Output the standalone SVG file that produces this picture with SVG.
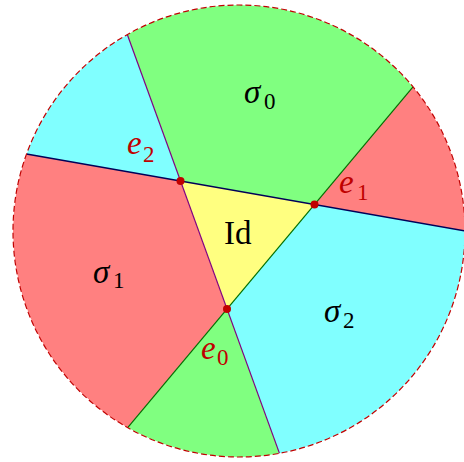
<svg xmlns="http://www.w3.org/2000/svg" width="464" height="462" viewBox="0 0 464 462">
<style>
.green{fill:#80ff80}
.red{fill:#ff8080}
.cyan{fill:#80ffff}
.yellow{fill:#ffff80}
.lbl{font-family:"Liberation Serif","DejaVu Serif",serif;font-size:33px;fill:#000}
.elbl{font-family:"Liberation Serif","DejaVu Serif",serif;font-size:33px;fill:#c00000}
.it{font-style:italic}
.sub{font-size:23px;font-style:normal}
.dot{fill:#c00000}
</style>
<defs>
<clipPath id="disk"><circle cx="239" cy="231" r="226"/></clipPath>
</defs>
<g id="regions" clip-path="url(#disk)">
<path id="sigma0" class="green" d="M127.3,34.5 A226,226 0 0 1 413,86.8 L314.5,204.5 L180.5,181 Z"/>
<path id="red_ur" class="red" d="M413,86.8 A226,226 0 0 1 465,230.9 L314.5,204.5 Z"/>
<path id="sigma2" class="cyan" d="M465,230.9 A226,226 0 0 1 279.5,453.4 L227,309 L314.5,204.5 Z"/>
<path id="green_b" class="green" d="M279.5,453.4 A226,226 0 0 1 127.7,427.7 L227,309 Z"/>
<path id="sigma1" class="red" d="M127.7,427.7 A226,226 0 0 1 26.5,154 L180.5,181 L227,309 Z"/>
<path id="cyan_ul" class="cyan" d="M26.5,154 A226,226 0 0 1 127.3,34.5 L180.5,181 Z"/>
<path id="Id" class="yellow" d="M180.5,181 L314.5,204.5 L227,309 Z"/>
</g>
<g id="connectors" clip-path="url(#disk)" fill="none">
<line x1="26.5" y1="154" x2="465" y2="230.9" stroke="#000058" stroke-width="1.6"/>
<line x1="127.3" y1="34.5" x2="279.5" y2="453.4" stroke="#800080" stroke-width="1.2"/>
<line x1="413" y1="86.8" x2="127.7" y2="427.7" stroke="#007000" stroke-width="1.2"/>
</g>
<g id="boundary">
<circle cx="239" cy="231" r="226" fill="none" stroke="#c00000" stroke-width="1.2" stroke-dasharray="6,3"/>
</g>
<g id="vertices">
<circle id="e2dot" class="dot" cx="180.5" cy="181" r="4"/>
<circle id="e1dot" class="dot" cx="314.5" cy="204.5" r="4"/>
<circle id="e0dot" class="dot" cx="227" cy="309" r="4"/>
</g>
<g id="labels">
<text class="lbl"><tspan class="it" x="244" y="103">σ</tspan><tspan class="sub" x="264" y="109">0</tspan></text>
<text class="lbl"><tspan class="it" x="93" y="282.5">σ</tspan><tspan class="sub" x="113" y="288">1</tspan></text>
<text class="lbl"><tspan class="it" x="324" y="322">σ</tspan><tspan class="sub" x="343" y="328">2</tspan></text>
<text class="lbl" x="224" y="243.5">Id</text>
<text class="elbl"><tspan class="it" x="127" y="154">e</tspan><tspan class="sub" x="143" y="162">2</tspan></text>
<text class="elbl"><tspan class="it" x="339" y="193">e</tspan><tspan class="sub" x="357" y="200">1</tspan></text>
<text class="elbl"><tspan class="it" x="201" y="358.5">e</tspan><tspan class="sub" x="217" y="364.5">0</tspan></text>
</g>
</svg>
